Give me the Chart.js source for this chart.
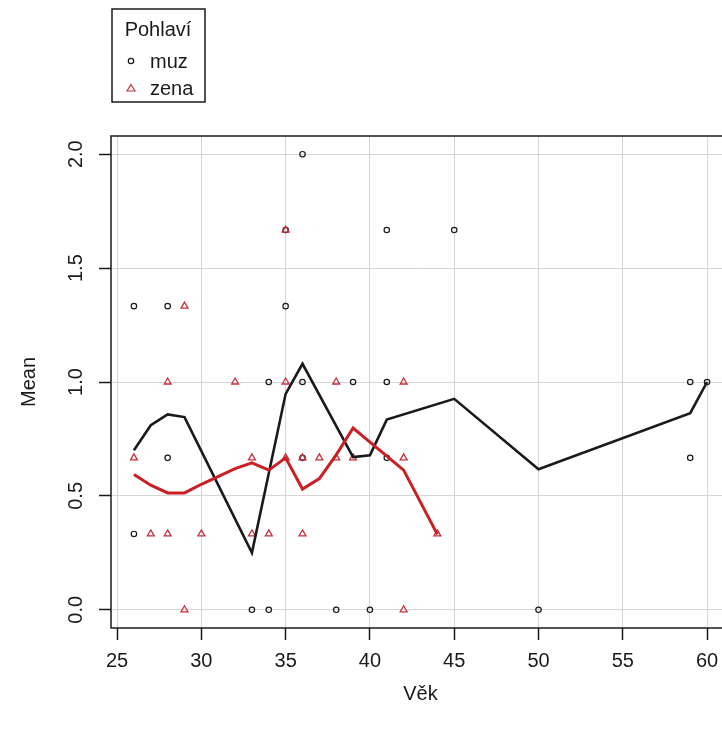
<!DOCTYPE html>
<html>
<head>
<meta charset="utf-8">
<script src="https://cdn.jsdelivr.net/npm/chart.js@4"></script>
<style>
html, body { margin: 0; padding: 0; background: #fff; overflow: hidden; }
canvas { display: block; }
</style>
</head>
<body>
<canvas id="mychart" width="740" height="731"></canvas>
<script>
// raw points (Věk, Mean)
var muzVek  = [36, 35, 41, 45, 26, 28, 35, 34, 36, 39, 41, 59, 60, 28, 36, 41, 59, 26, 33, 34, 38, 40, 50];
var muzMean = [2, 1.667, 1.667, 1.667, 1.333, 1.333, 1.333, 1, 1, 1, 1, 1, 1, 0.667, 0.667, 0.667, 0.667, 0.333, 0, 0, 0, 0, 0];
var zenaVek  = [35, 29, 28, 32, 35, 38, 42, 26, 33, 35, 36, 37, 38, 39, 42, 27, 28, 30, 33, 34, 36, 44, 29, 42];
var zenaMean = [1.667, 1.333, 1, 1, 1, 1, 1, 0.667, 0.667, 0.667, 0.667, 0.667, 0.667, 0.667, 0.667, 0.333, 0.333, 0.333, 0.333, 0.333, 0.333, 0.333, 0, 0];

// smoothed lines
var muzLineVek  = [26, 27, 28, 29, 33, 35, 36, 39, 40, 41, 45, 50, 59, 60];
var muzLine     = [0.70, 0.81, 0.858, 0.846, 0.25, 0.948, 1.08, 0.67, 0.678, 0.835, 0.926, 0.617, 0.863, 1.0];
var zenaLineVek = [26, 27, 28, 29, 30, 32, 33, 34, 35, 36, 37, 38, 39, 42, 44];
var zenaLine    = [0.594, 0.547, 0.513, 0.513, 0.551, 0.62, 0.645, 0.613, 0.667, 0.53, 0.576, 0.68, 0.798, 0.613, 0.331];

var xTicks = [25, 30, 35, 40, 45, 50, 55, 60];
var yTicks = [0, 0.5, 1, 1.5, 2];
var yTickLabels = ['0.0', '0.5', '1.0', '1.5', '2.0'];
var legendTitle = 'Pohlaví';
var legendLabels = ['muz', 'zena'];

var FONT = '"Liberation Sans", Arial, sans-serif';
var BLACK = '#1a1a1a';
var RED = '#cc1f24';
var RED_PTS = '#c6303f';

function toPoints(xs, ys) {
    var out = [];
    for (var i = 0; i < xs.length; i++) out.push({x: xs[i], y: ys[i]});
    return out;
}

var boxAndLabels = {
    id: 'boxAndLabels',
    afterDraw: function(chart) {
        var ctx = chart.ctx;
        var a = chart.chartArea;
        var ys = chart.scales.y;
        ctx.save();
        // plot box
        ctx.strokeStyle = BLACK;
        ctx.lineWidth = 1.5;
        ctx.strokeRect(a.left, a.top, a.right - a.left, a.bottom - a.top);

        // rotated y tick labels
        ctx.fillStyle = BLACK;
        ctx.font = '20px ' + FONT;
        ctx.textAlign = 'center';
        ctx.textBaseline = 'alphabetic';
        for (var i = 0; i < yTicks.length; i++) {
            var py = ys.getPixelForValue(yTicks[i]);
            ctx.save();
            ctx.translate(82, py);
            ctx.rotate(-Math.PI / 2);
            ctx.fillText(yTickLabels[i], 0, 0);
            ctx.restore();
        }

        // legend
        ctx.lineWidth = 1.5;
        ctx.strokeRect(112, 9, 93, 93);
        ctx.textBaseline = 'middle';
        ctx.fillText(legendTitle, 158, 30);
        ctx.textAlign = 'left';
        ctx.fillText(legendLabels[0], 150, 62);
        ctx.fillText(legendLabels[1], 150, 89);
        ctx.lineWidth = 1.2;
        ctx.strokeStyle = BLACK;
        ctx.beginPath();
        ctx.arc(131, 61, 2.7, 0, Math.PI * 2);
        ctx.stroke();
        ctx.strokeStyle = RED_PTS;
        ctx.beginPath();
        ctx.moveTo(131, 84.5);
        ctx.lineTo(135, 91);
        ctx.lineTo(127, 91);
        ctx.closePath();
        ctx.stroke();
        ctx.restore();
    }
};

var config = {
    type: 'scatter',
    data: {
        datasets: [{
            label: 'muz smooth',
            data: toPoints(muzLineVek, muzLine),
            showLine: true,
            borderColor: BLACK,
            borderWidth: 2.6,
            pointRadius: 0,
            order: 1
        }, {
            label: 'zena smooth',
            data: toPoints(zenaLineVek, zenaLine),
            showLine: true,
            borderColor: RED,
            borderWidth: 3,
            pointRadius: 0,
            order: 0
        }, {
            label: legendLabels[0],
            data: toPoints(muzVek, muzMean),
            pointStyle: 'circle',
            pointRadius: 2.7,
            borderWidth: 1.2,
            borderColor: BLACK,
            backgroundColor: 'rgba(0,0,0,0)',
            order: 3
        }, {
            label: legendLabels[1],
            data: toPoints(zenaVek, zenaMean),
            pointStyle: 'triangle',
            pointRadius: 4,
            borderWidth: 1.3,
            borderColor: RED_PTS,
            backgroundColor: 'rgba(0,0,0,0)',
            order: 2
        }]
    },
    options: {
        responsive: false,
        animation: false,
        layout: { padding: { top: 136, right: 10, left: 0, bottom: 0 } },
        plugins: {
            legend: { display: false },
            tooltip: { enabled: false }
        },
        scales: {
            x: {
                type: 'linear',
                min: 24.64,
                max: 61.36,
                afterBuildTicks: function(s) { s.ticks = xTicks.map(function(v) { return {value: v}; }); },
                afterFit: function(s) { s.height = 731 - 628; },
                border: { display: false },
                grid: { color: '#d6d6d6', lineWidth: 1, tickLength: 12, tickColor: BLACK, tickWidth: 1.5 },
                ticks: { color: BLACK, padding: 9, maxRotation: 0, font: { size: 20, family: FONT } },
                title: { display: true, text: 'Věk', color: BLACK, font: { size: 20, family: FONT }, padding: { top: 0, bottom: 25 } }
            },
            y: {
                type: 'linear',
                min: -0.08,
                max: 2.08,
                afterBuildTicks: function(s) { s.ticks = yTicks.map(function(v) { return {value: v}; }); },
                afterFit: function(s) { s.width = 111; },
                border: { display: false },
                grid: { color: '#d6d6d6', lineWidth: 1, tickLength: 12, tickColor: BLACK, tickWidth: 1.5 },
                ticks: { display: false },
                title: { display: true, text: 'Mean', color: BLACK, font: { size: 20, family: FONT }, padding: { top: 17, bottom: 0 } }
            }
        }
    },
    plugins: [boxAndLabels]
};

var ctx = document.getElementById('mychart').getContext('2d');
window.myChart = new Chart(ctx, config);
</script>
</body>
</html>
